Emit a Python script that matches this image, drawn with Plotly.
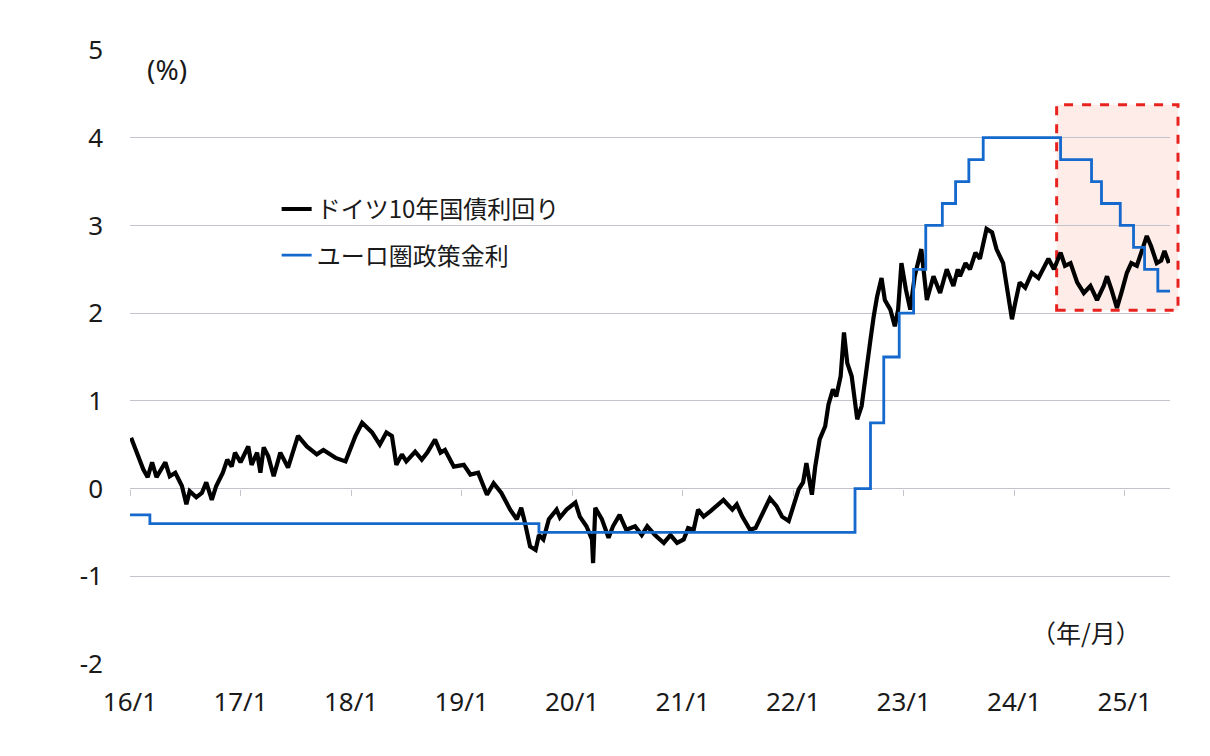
import plotly.graph_objects as go

# German 10y Bund yield (%), x in decimal years
bund_t = [2016.01, 2016.07, 2016.12, 2016.16, 2016.20, 2016.24, 2016.32, 2016.36, 2016.41, 2016.47,
          2016.51, 2016.54, 2016.60, 2016.65, 2016.69, 2016.74, 2016.78, 2016.84, 2016.88, 2016.92,
          2016.95, 2017.00, 2017.07, 2017.10, 2017.15, 2017.18, 2017.21, 2017.25, 2017.30, 2017.36,
          2017.43, 2017.52, 2017.60, 2017.69, 2017.75, 2017.81, 2017.86, 2017.95, 2018.04, 2018.10,
          2018.19, 2018.26, 2018.32, 2018.37, 2018.41, 2018.46, 2018.50, 2018.58, 2018.64, 2018.69,
          2018.76, 2018.81, 2018.85, 2018.93, 2019.02, 2019.08, 2019.15, 2019.23, 2019.29, 2019.36,
          2019.44, 2019.50, 2019.54, 2019.57, 2019.62, 2019.67, 2019.70, 2019.74, 2019.79, 2019.86,
          2019.89, 2019.95, 2020.03, 2020.07, 2020.13, 2020.18, 2020.19, 2020.21, 2020.27, 2020.33,
          2020.37, 2020.43, 2020.49, 2020.57, 2020.63, 2020.68, 2020.75, 2020.83, 2020.89, 2020.95,
          2021.01, 2021.05, 2021.10, 2021.14, 2021.19, 2021.25, 2021.32, 2021.37, 2021.45, 2021.49,
          2021.54, 2021.61, 2021.66, 2021.72, 2021.79, 2021.85, 2021.90, 2021.96, 2022.00, 2022.05,
          2022.09, 2022.12, 2022.17, 2022.20, 2022.24, 2022.29, 2022.32, 2022.36, 2022.39, 2022.43,
          2022.46, 2022.49, 2022.53, 2022.58, 2022.62, 2022.67, 2022.70, 2022.73, 2022.76, 2022.80,
          2022.83, 2022.88, 2022.92, 2022.95, 2022.98, 2023.02, 2023.06, 2023.10, 2023.16, 2023.21,
          2023.27, 2023.33, 2023.39, 2023.45, 2023.49, 2023.51, 2023.56, 2023.60, 2023.65, 2023.69,
          2023.75, 2023.80, 2023.84, 2023.90, 2023.93, 2023.98, 2024.01, 2024.05, 2024.10, 2024.16,
          2024.22, 2024.26, 2024.31, 2024.36, 2024.42, 2024.46, 2024.51, 2024.57, 2024.63, 2024.69,
          2024.75, 2024.81, 2024.84, 2024.88, 2024.93, 2024.97, 2025.02, 2025.06, 2025.11, 2025.15,
          2025.20, 2025.24, 2025.29, 2025.33, 2025.36, 2025.40]
bund_y = [0.58, 0.37, 0.22, 0.13, 0.30, 0.13, 0.30, 0.14, 0.18, 0.03,
          -0.18, -0.03, -0.10, -0.05, 0.07, -0.13, 0.03, 0.18, 0.33, 0.25,
          0.41, 0.30, 0.48, 0.27, 0.41, 0.18, 0.47, 0.37, 0.14, 0.41,
          0.24, 0.60, 0.48, 0.39, 0.44, 0.39, 0.35, 0.31, 0.60, 0.75,
          0.64, 0.50, 0.64, 0.60, 0.27, 0.39, 0.31, 0.42, 0.33, 0.41,
          0.56, 0.41, 0.44, 0.25, 0.27, 0.16, 0.18, -0.07, 0.06, -0.05,
          -0.24, -0.35, -0.22, -0.37, -0.66, -0.70, -0.53, -0.58, -0.35, -0.24,
          -0.33, -0.24, -0.16, -0.32, -0.43, -0.58, -0.85, -0.22, -0.35, -0.56,
          -0.43, -0.30, -0.47, -0.43, -0.53, -0.43, -0.53, -0.62, -0.53, -0.62,
          -0.58, -0.45, -0.47, -0.24, -0.32, -0.26, -0.18, -0.13, -0.24, -0.18,
          -0.32, -0.47, -0.45, -0.28, -0.11, -0.20, -0.32, -0.37, -0.20, -0.01,
          0.07, 0.29, -0.07, 0.25, 0.56, 0.71, 0.96, 1.13, 1.05, 1.28,
          1.78, 1.43, 1.28, 0.79, 0.94, 1.47, 1.70, 1.97, 2.19, 2.40,
          2.15, 2.04, 1.85, 2.04, 2.57, 2.27, 2.04, 2.42, 2.73, 2.15,
          2.42, 2.23, 2.50, 2.31, 2.50, 2.42, 2.57, 2.50, 2.69, 2.62,
          2.96, 2.92, 2.73, 2.57, 2.31, 1.93, 2.12, 2.35, 2.29, 2.46,
          2.40, 2.50, 2.62, 2.50, 2.69, 2.54, 2.57, 2.35, 2.23, 2.31,
          2.15, 2.31, 2.42, 2.27, 2.06, 2.23, 2.46, 2.57, 2.54, 2.69,
          2.88, 2.76, 2.57, 2.60, 2.71, 2.57]

# Euro area policy rate (deposit facility rate, %), step changes
ecb_t = [2016.00, 2016.18, 2019.70, 2022.56, 2022.70, 2022.82, 2022.96, 2023.09, 2023.20,
         2023.35, 2023.47, 2023.59, 2023.72, 2024.42, 2024.70, 2024.79, 2024.96, 2025.08,
         2025.18, 2025.30, 2025.41]
ecb_y = [-0.30, -0.40, -0.50, 0.00, 0.75, 1.50, 2.00, 2.50, 3.00,
         3.25, 3.50, 3.75, 4.00, 3.75, 3.50, 3.25, 3.00, 2.75,
         2.50, 2.25, 2.25]

x_tickvals = [2016, 2017, 2018, 2019, 2020, 2021, 2022, 2023, 2024, 2025]
x_ticktext = ["16/1", "17/1", "18/1", "19/1", "20/1", "21/1", "22/1", "23/1", "24/1", "25/1"]
y_tickvals = [-2, -1, 0, 1, 2, 3, 4, 5]
y_ticktext = ["-2", "-1", "0", "1", "2", "3", "4", "5"]

FONT = "Noto Sans, Noto Sans CJK JP, sans-serif"
JFONT = "Noto Sans CJK JP, Noto Sans, sans-serif"
GRID = "#c3c3cb"

fig = go.Figure()
fig.add_trace(go.Scatter(x=bund_t, y=bund_y, mode="lines", name="ドイツ10年国債利回り",
                         line=dict(color="#000000", width=4.2), legendgroup="a"))
fig.add_trace(go.Scatter(x=ecb_t, y=ecb_y, mode="lines", name="ユーロ圏政策金利",
                         line=dict(color="#1568cc", width=2.8, shape="hv"), legendgroup="b"))
# helper trace so the zero-line tick axis renders
fig.add_trace(go.Scatter(x=[], y=[], xaxis="x2", showlegend=False, hoverinfo="skip"))

fig.update_layout(
    width=1194, height=740,
    margin=dict(l=122, r=32, t=42, b=84),
    paper_bgcolor="white", plot_bgcolor="white",
    font=dict(family=FONT, size=26, color="#1a1a1a"),
    showlegend=True,
    legend=dict(x=0.141, y=0.777, xanchor="left", yanchor="top",
                font=dict(family=JFONT, size=24, color="#1a1a1a"),
                bgcolor="rgba(0,0,0,0)", tracegroupgap=12),
    xaxis=dict(range=[2016, 2025.41], tickvals=x_tickvals, ticktext=x_ticktext,
               showgrid=False, zeroline=False, showline=False, ticks="",
               ticklabelstandoff=20, tickfont=dict(size=26)),
    xaxis2=dict(range=[2016, 2025.41], overlaying="x", anchor="free", position=2/7,
                tickvals=x_tickvals, showticklabels=False, ticks="outside", ticklen=6,
                tickcolor=GRID, showgrid=False, zeroline=False, showline=False),
    yaxis=dict(range=[-2, 5], tickvals=y_tickvals, ticktext=y_ticktext,
               showgrid=True, gridcolor=GRID, gridwidth=1.2,
               zeroline=False, showline=False, ticks="", ticklabelstandoff=26,
               tickfont=dict(size=26)),
    shapes=[dict(type="rect", xref="paper", yref="paper",
                 x0=0.891, x1=1.0077, y0=0.576, y1=0.911,
                 fillcolor="rgba(245,170,150,0.22)", layer="below",
                 line=dict(color="#e8231f", width=3, dash="dash"))],
    annotations=[
        dict(text="(%)", xref="paper", yref="paper", x=0.0144, y=0.969,
             xanchor="left", yanchor="middle", showarrow=False,
             font=dict(family=FONT, size=28, color="#1a1a1a")),
        dict(text="（年/月）", xref="paper", yref="paper", x=0.974, y=0.052,
             xanchor="right", yanchor="middle", showarrow=False,
             font=dict(family=JFONT, size=25, color="#1a1a1a")),
    ],
)

fig.write_html("out.html")
